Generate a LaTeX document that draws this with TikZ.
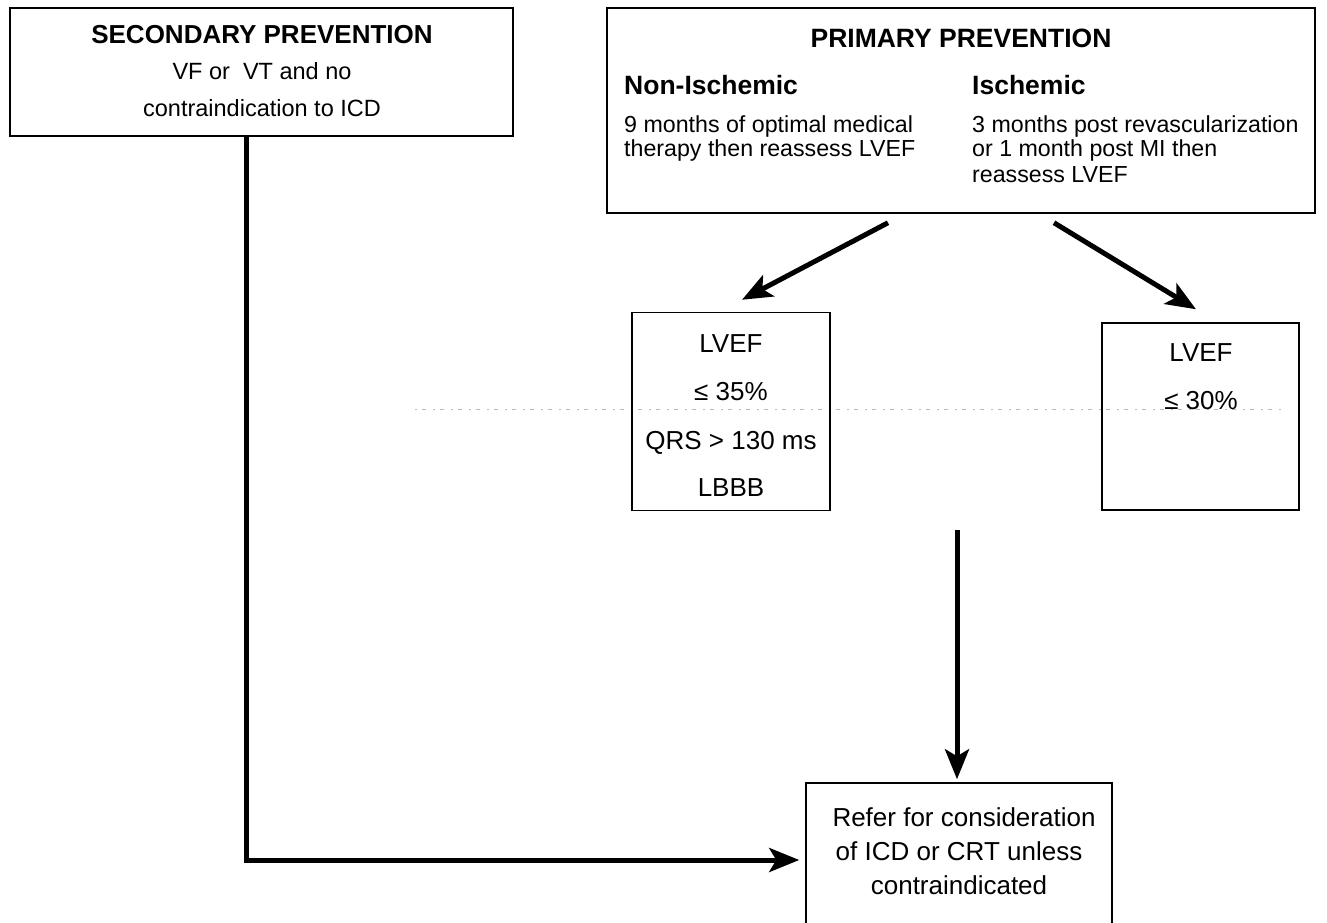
\documentclass[tikz,border=0pt]{standalone}
\usepackage{fontspec}
\setmainfont{Liberation Sans}
\usetikzlibrary{arrows.meta}
\begin{document}
\begin{tikzpicture}[x=1pt,y=-1pt,
  box/.style={draw, line width=1.5pt, inner sep=0pt},
  txt/.style={anchor=base, inner sep=0pt},
  ltxt/.style={anchor=base west, inner sep=0pt},
  body/.style={font=\fontsize{23.2}{28}\selectfont},
  arr/.style={line width=5pt, -{Stealth[length=30pt,width=24pt,inset=7pt]}},
  scanline/.style={gray!55, line width=0.8pt, dash pattern=on 2pt off 5pt on 4pt off 7pt}]
\path[use as bounding box] (0,0) rectangle (1327,923);
\clip (0,0) rectangle (1327,923);

% faint scan line
\draw[scanline] (415,409) -- (1283,409);

% boxes
\node[box, minimum width=503pt, minimum height=128pt] (sec) at (261.5,72) {};
\node[box, minimum width=708pt, minimum height=205pt] (prim) at (961,110.5) {};
\node[box, minimum width=198pt, minimum height=198pt] (lvefa) at (731,411.5) {};
\node[box, minimum width=197pt, minimum height=187pt] (lvefb) at (1200.5,416.5) {};
\node[box, minimum width=306pt, minimum height=170pt] (refer) at (959,868) {};

% secondary text
\node[txt, font=\fontsize{26}{30}\selectfont\bfseries] (sect) at (262,44) {SECONDARY PREVENTION};
\node[txt, font=\fontsize{23.5}{28}\selectfont] (secl1) at (262,80) {VF or\ \ VT and no};
\node[txt, font=\fontsize{23.5}{28}\selectfont] (secl2) at (262,117) {contraindication to ICD};

% primary text
\node[txt, font=\fontsize{26.5}{30}\selectfont\bfseries] (primt) at (961,48) {PRIMARY PREVENTION};
\node[ltxt, font=\fontsize{26.5}{30}\selectfont\bfseries] (nonh) at (624,95) {Non-Ischemic};
\node[ltxt, body] (nonl1) at (624,132) {9 months of optimal medical};
\node[ltxt, body] (nonl2) at (624,157) {therapy then reassess LVEF};
\node[ltxt, font=\fontsize{26.5}{30}\selectfont\bfseries] (ish) at (972,95) {Ischemic};
\node[ltxt, body] (isl1) at (972,132) {3 months post revascularization};
\node[ltxt, body] (isl2) at (972,157) {or 1 month post MI then};
\node[ltxt, body] (isl3) at (972,182) {reassess LVEF};

% LVEF box A
\node[txt, font=\fontsize{26}{30}\selectfont] (la1) at (731,352.5) {LVEF};
\node[txt, font=\fontsize{26}{30}\selectfont] (la2) at (731,400) {≤ 35\%};
\node[txt, font=\fontsize{26}{30}\selectfont] (la3) at (731,449.5) {QRS > 130 ms};
\node[txt, font=\fontsize{26}{30}\selectfont] (la4) at (731,496.5) {LBBB};

% LVEF box B
\node[txt, font=\fontsize{26}{30}\selectfont] (lb1) at (1201,361.5) {LVEF};
\node[txt, font=\fontsize{26}{30}\selectfont] (lb2) at (1201,409.5) {≤ 30\%};

% refer text
\node[txt, font=\fontsize{26}{30}\selectfont] (r1) at (964,826) {Refer for consideration};
\node[txt, font=\fontsize{26}{30}\selectfont] (r2) at (959,860) {of ICD or CRT unless};
\node[txt, font=\fontsize{26}{30}\selectfont] (r3) at (959,894) {contraindicated};

% connectors
\coordinate (corner) at (246,860);
\draw[arr, line join=miter] (sec.south -| corner) -- (corner) -- ([xshift=-6pt]refer.west |- corner);
\draw[arr] ([shift={(-73pt,-9pt)}]prim.south) -- ([shift={(11pt,12pt)}]lvefa.north);
\draw[arr] ([shift={(93pt,-9pt)}]prim.south) -- ([shift={(-4.5pt,13pt)}]lvefb.north);
\coordinate (vstart) at (957,530);
\draw[arr] (vstart) -- ([yshift=3pt]vstart |- refer.north);
\end{tikzpicture}
\end{document}
